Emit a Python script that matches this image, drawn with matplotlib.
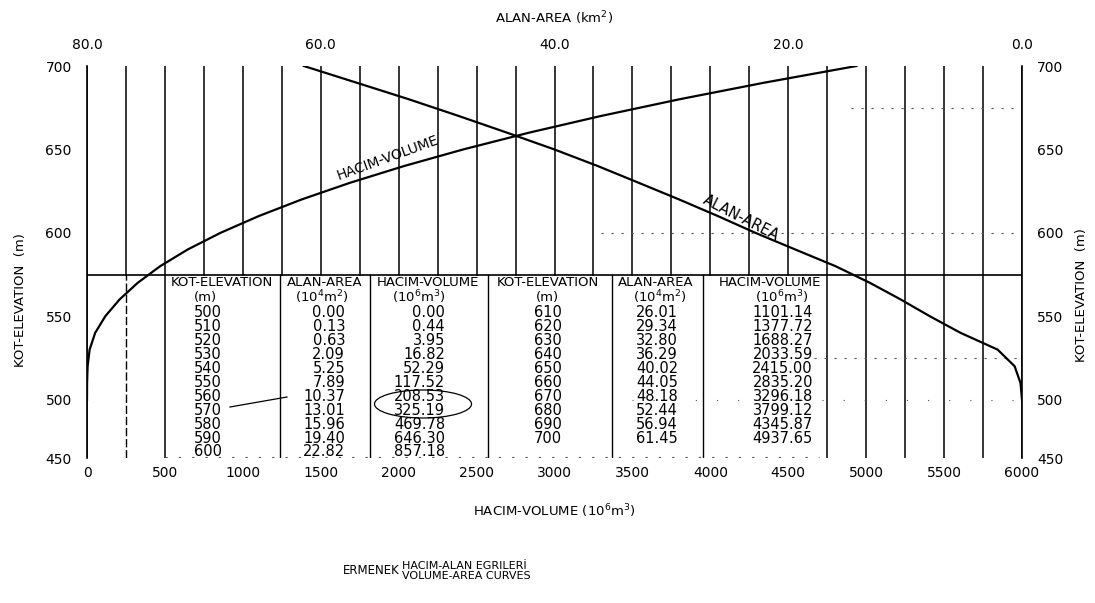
import numpy as np
import matplotlib.pyplot as plt
from matplotlib.patches import Ellipse

# Ermenek reservoir: elevation (m), area and volume tables
elevations = [500, 510, 520, 530, 540, 550, 560, 570, 580, 590, 600,
              610, 620, 630, 640, 650, 660, 670, 680, 690, 700]
areas = [0.00, 0.13, 0.63, 2.09, 5.25, 7.89, 10.37, 13.01, 15.96, 19.40, 22.82,
         26.01, 29.34, 32.80, 36.29, 40.02, 44.05, 48.18, 52.44, 56.94, 61.45]
volumes = [0.00, 0.44, 3.95, 16.82, 52.29, 117.52, 208.53, 325.19, 469.78, 646.30, 857.18,
           1101.14, 1377.72, 1688.27, 2033.59, 2415.00, 2835.20, 3296.18, 3799.12, 4345.87, 4937.65]

vol_ticks = list(range(0, 6001, 500))
area_ticks = [80, 60, 40, 20, 0]
elev_ticks = [450, 500, 550, 600, 650, 700]

W, H = 1095, 603


def fx(px):
    return px / W


def fy(py):
    return 1 - py / H


# the 450-500 m band is drawn squeezed, as on the sheet
SQ = 0.70


def elev_fwd(e):
    e = np.asarray(e, dtype=float)
    return np.where(e >= 500, e, 500 - (500 - e) * SQ)


def elev_inv(p):
    p = np.asarray(p, dtype=float)
    return np.where(p >= 500, p, 500 - (500 - p) / SQ)


fig = plt.figure(figsize=(W / 100, H / 100), dpi=100)
ax = fig.add_axes([fx(87), fy(458), fx(1022) - fx(87), fy(66) - fy(458)])
ax.set_yscale('function', functions=(elev_fwd, elev_inv))
ax.set_xlim(0, 6000)
ax.set_ylim(450, 700)

# vertical grid, cut out where the table sits
table_top = 575
grid = dict(color='black', lw=1.1)
for v in range(0, 6001, 250):
    if v == 250:
        ax.plot([v, v], [table_top, 700], **grid)
        ax.plot([v, v], [450, table_top], color='black', lw=1.0, ls=(0, (6, 2)))
    elif v <= 500 or v >= 4750:
        ax.plot([v, v], [450, 700], **grid)
    else:
        ax.plot([v, v], [table_top, 700], **grid)

# table column separators
for v in [1240, 1815, 2575, 3370, 3955]:
    ax.plot([v, v], [450, table_top], color='black', lw=1.0)

ax.axhline(table_top, color='black', lw=1.2)

# faint leftover grid lines
dots = dict(color='#555555', lw=0.8, ls=(0, (2, 7)))
ax.plot([4900, 6000], [675, 675], **dots)
ax.plot([3300, 6000], [600, 600], **dots)
ax.plot([4600, 6000], [525, 525], **dots)
ax.plot([3500, 6000], [500, 500], color='#555555', lw=0.8, ls=(0, (1, 18)))
ax.plot([500, 4700], [451, 451], color='#555555', lw=0.8, ls=(0, (2, 10)))

# curves
ax.plot(volumes, elevations, color='black', lw=1.6)
axt = ax.twiny()
axt.set_xlim(80, 0)
axt.plot(areas, elevations, color='black', lw=1.6)

ax.text(1930, 645, 'HACIM-VOLUME', rotation=20, ha='center', va='center', fontsize=10)
ax.text(4200, 609, 'ALAN-AREA', rotation=-27, ha='center', va='center', fontsize=10.5)

# axes styling
for a in (ax, axt):
    for s in a.spines.values():
        s.set_visible(False)
for side in ('left', 'right'):
    ax.spines[side].set_visible(True)
    ax.spines[side].set_linewidth(1.2)

ax.set_xticks(vol_ticks)
ax.set_xticklabels([str(v) for v in vol_ticks])
ax.set_yticks(elev_ticks)
ax.set_yticklabels([str(e) for e in elev_ticks])
ax.yaxis.set_minor_locator(plt.NullLocator())
ax.tick_params(axis='both', length=0, labelsize=10)
ax.tick_params(axis='x', pad=6)
ax.tick_params(axis='y', pad=11, labelright=True)

axt.set_xticks(area_ticks)
axt.set_xticklabels([f'{a:.1f}' for a in area_ticks])
axt.tick_params(axis='x', length=0, labelsize=10, pad=10)

ax.set_xlabel('HACIM-VOLUME (10$^6$m$^3$)', fontsize=9.5, labelpad=16)
axt.set_xlabel('ALAN-AREA (km$^2$)', fontsize=9.5, labelpad=11)
ax.set_ylabel('KOT-ELEVATION  (m)', fontsize=9.5)
ax.yaxis.set_label_coords((27 - 87) / 935, 1 - (300 - 66) / (458 - 66))
fig.text(fx(1082), fy(295), 'KOT-ELEVATION  (m)', rotation=90, ha='center', va='center',
         fontsize=9.5)

# table
hdr = dict(fontsize=9.5, ha='center', va='center')
headers = ['KOT-ELEVATION', 'ALAN-AREA', 'HACIM-VOLUME',
           'KOT-ELEVATION', 'ALAN-AREA', 'HACIM-VOLUME']
header_x = [222, 325, 428, 548, 656, 770]
units = ['(m)', '(10$^4$m$^2$)', '(10$^6$m$^3$)', '(m)', '(10$^4$m$^2$)', '(10$^6$m$^3$)']
units_x = [205, 322, 419, 547, 660, 782]
for h, u, hx, ux in zip(headers, units, header_x, units_x):
    fig.text(fx(hx), fy(282), h, **hdr)
    fig.text(fx(ux), fy(297), u, fontsize=9.5, ha='center', va='center')

right_x = [222, 345, 445, 562, 678, 813]
cell = dict(fontsize=10.5, ha='right', va='center')
for i, (e, a, v) in enumerate(zip(elevations, areas, volumes)):
    block = 0 if i <= 10 else 3
    row = i if i <= 10 else i - 11
    y = fy(312.5 + row * 13.95)
    fig.text(fx(right_x[block]), y, f'{e}', **cell)
    fig.text(fx(right_x[block + 1]), y, f'{a:.2f}', **cell)
    fig.text(fx(right_x[block + 2]), y, f'{v:.2f}', **cell)

# pen marks on the table
fig.add_artist(plt.Line2D([fx(230), fx(287)], [fy(407), fy(397)], color='black', lw=0.9))
fig.add_artist(Ellipse((fx(423), fy(404)), 97 / W, 28 / H, fill=False, color='black', lw=0.9))

# title block
fig.text(fx(371), fy(571), 'ERMENEK', fontsize=8.5, ha='center', va='center')
fig.text(fx(402), fy(571), 'HACIM-ALAN EGRILERİ\nVOLUME-AREA CURVES', fontsize=8,
         ha='left', va='center', linespacing=1.0)

fig.savefig('out.png', dpi=100)
